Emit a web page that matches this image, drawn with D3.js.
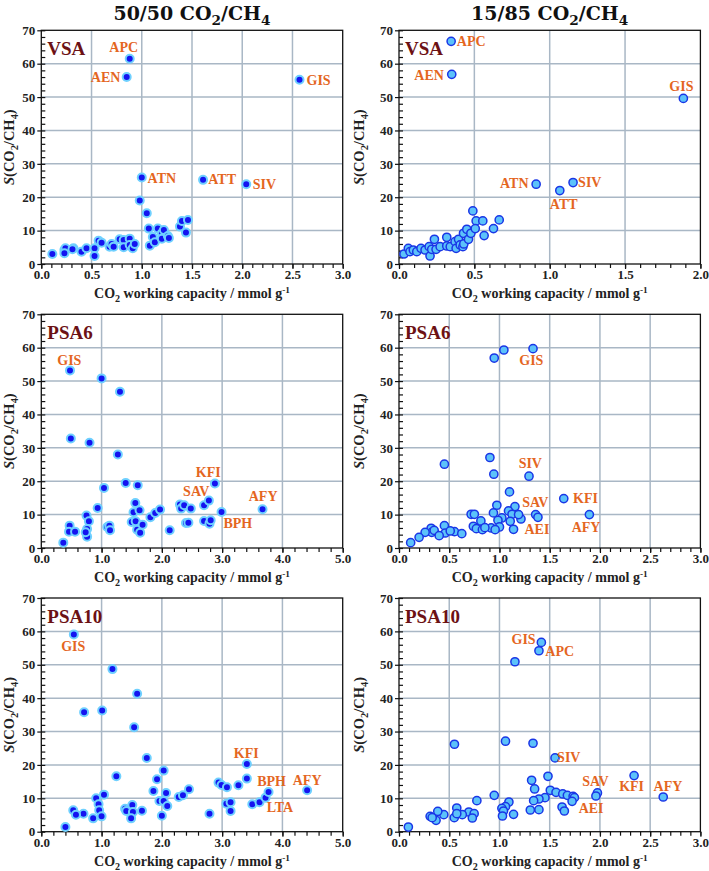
<!DOCTYPE html>
<html>
<head>
<meta charset="utf-8">
<script src="https://cdn.jsdelivr.net/npm/d3@7.9.0/dist/d3.min.js"></script>
<style>
  body { margin: 0; background: #fff; }
  text { font-family: "Liberation Serif", serif; font-weight: bold; }
</style>
</head>
<body>
<svg id="chart" width="709" height="871"></svg>
<script>
// ===== data: [CO2 working capacity, selectivity] =====
const vsa5050 = [[0.88,61.5],[0.85,56.0],[2.57,55.2],[1.00,25.9],[1.61,25.2],[2.04,23.9],[0.98,19.0],[1.05,15.2],[1.07,10.6],[1.11,8.1],[1.08,5.5],[1.13,6.5],[1.16,10.6],[1.20,9.2],[1.20,7.6],[1.22,10.2],[1.26,8.4],[1.27,7.8],[1.38,11.2],[1.40,12.9],[1.46,13.2],[1.44,9.4],[0.11,3.0],[0.23,4.2],[0.24,4.7],[0.23,3.2],[0.32,4.7],[0.31,4.4],[0.40,3.7],[0.45,4.7],[0.53,4.7],[0.53,2.4],[0.57,7.0],[0.60,6.4],[0.68,5.2],[0.70,6.0],[0.72,5.2],[0.78,7.4],[0.82,7.2],[0.82,5.0],[0.88,7.6],[0.88,5.7],[0.91,4.7],[0.93,6.0]];
const vsa1585 = [[0.346,66.7],[0.35,56.8],[1.887,49.6],[0.91,23.9],[1.067,22.0],[1.155,24.4],[0.49,15.9],[0.512,12.9],[0.556,12.9],[0.665,13.2],[0.565,8.5],[0.627,10.6],[0.033,3.0],[0.062,4.7],[0.073,3.7],[0.095,4.2],[0.118,3.7],[0.146,4.7],[0.173,4.2],[0.20,5.2],[0.206,2.4],[0.217,4.4],[0.235,7.4],[0.246,4.4],[0.273,5.2],[0.317,8.0],[0.317,5.4],[0.34,5.2],[0.372,6.7],[0.379,4.7],[0.395,7.4],[0.406,5.7],[0.424,5.2],[0.43,6.0],[0.428,9.2],[0.45,10.4],[0.461,7.4],[0.477,9.2],[0.506,10.6]];
const psa6_5050 = [[0.476,53.2],[1.0,50.8],[1.305,46.8],[0.49,32.8],[0.80,31.5],[1.27,28.0],[1.40,19.5],[1.60,18.8],[1.04,18.0],[0.935,12.0],[0.75,9.7],[0.79,8.0],[0.76,5.7],[0.76,3.4],[0.736,4.7],[0.47,6.7],[0.46,4.9],[0.56,4.9],[0.365,1.6],[1.095,6.3],[1.13,6.7],[1.14,5.3],[1.56,13.5],[1.53,10.7],[1.63,11.3],[1.50,7.8],[1.565,8.0],[1.59,5.5],[1.64,4.6],[1.68,7.0],[1.81,9.2],[1.89,10.5],[1.97,11.5],[2.13,5.3],[2.30,13.0],[2.32,11.8],[2.37,12.8],[2.48,11.8],[2.40,7.5],[2.44,7.6],[2.70,12.8],[2.78,14.2],[2.88,19.3],[2.70,8.1],[2.79,7.3],[2.81,8.3],[2.99,10.8],[3.67,11.6]];
const psa6_1585 = [[1.044,59.3],[1.334,59.7],[0.948,56.9],[0.452,25.1],[0.905,27.1],[0.944,22.1],[1.294,21.5],[1.10,16.8],[1.64,14.8],[1.895,10.0],[0.974,12.8],[1.154,12.4],[1.09,11.1],[1.125,10.1],[0.94,10.5],[1.024,9.0],[0.985,8.3],[1.107,8.0],[1.214,8.7],[1.19,10.0],[1.36,10.0],[1.383,9.2],[1.14,5.6],[1.0,6.3],[0.918,6.0],[0.957,5.5],[0.718,10.1],[0.75,10.1],[0.74,6.5],[0.77,5.8],[0.815,8.1],[0.83,5.5],[0.855,6.1],[0.452,6.7],[0.46,4.5],[0.552,4.9],[0.51,5.1],[0.625,4.3],[0.32,5.9],[0.326,4.7],[0.35,5.3],[0.26,4.7],[0.40,3.7],[0.20,3.2],[0.116,1.6]];
const psa10_5050 = [[0.54,59.1],[1.18,48.7],[1.59,41.3],[0.71,35.8],[1.01,36.3],[1.54,31.3],[1.75,22.1],[1.245,16.6],[1.92,15.7],[2.03,18.3],[1.86,12.2],[2.07,11.6],[1.96,9.2],[2.03,9.2],[2.09,7.7],[2.0,4.8],[2.28,10.4],[2.35,10.9],[2.45,12.7],[2.79,5.4],[2.94,14.7],[2.99,14.0],[3.08,13.3],[3.27,13.9],[3.41,20.3],[3.41,15.9],[3.07,8.4],[3.14,8.8],[3.14,6.2],[3.50,8.2],[3.62,8.8],[3.72,10.2],[3.77,11.9],[4.41,12.4],[0.91,10.0],[1.04,11.1],[0.95,8.2],[0.96,6.4],[1.0,4.6],[0.86,4.0],[0.70,5.4],[0.53,6.4],[0.575,5.1],[0.40,1.4],[1.39,6.9],[1.41,6.2],[1.51,8.0],[1.52,5.9],[1.49,4.0],[1.67,6.3]];
const psa10_1585 = [[1.417,56.7],[1.393,54.2],[1.154,50.9],[0.552,26.2],[1.06,27.1],[1.334,26.5],[1.553,22.1],[2.34,16.8],[2.63,10.4],[1.975,11.6],[1.96,10.7],[1.483,16.6],[1.32,15.4],[1.35,12.8],[1.506,12.4],[1.563,11.8],[1.63,11.3],[1.676,10.9],[1.733,10.6],[1.746,10.2],[1.723,9.1],[1.453,10.2],[1.393,9.8],[1.34,9.3],[1.623,7.4],[1.646,6.2],[1.307,6.5],[1.393,6.6],[1.14,5.2],[1.094,8.9],[1.06,7.5],[1.024,7.0],[1.04,6.2],[1.03,4.7],[0.948,10.9],[0.775,9.3],[0.575,7.1],[0.695,5.9],[0.748,5.4],[0.73,4.1],[0.63,5.1],[0.55,4.2],[0.575,5.4],[0.446,5.1],[0.386,6.1],[0.369,3.4],[0.31,4.6],[0.33,4.2],[0.093,1.4]];

// framework labels, placed where the text sits (data units)
const vsa5050Notes = [['APC',0.82,64.9],['AEN',0.64,55.9],['GIS',2.76,54.9],['ATN',1.20,25.7],['ATT',1.80,25.2],['SIV',2.22,23.9]];
const vsa1585Notes = [['APC',0.479,66.7],['AEN',0.20,56.6],['GIS',1.874,53.3],['ATN',0.765,24.0],['ATT',1.093,17.9],['SIV',1.266,24.4]];
const psa6_5050Notes = [['GIS',0.465,56.3],['KFI',2.77,22.5],['SAV',2.57,17.0],['BPH',3.26,7.3],['AFY',3.68,15.5]];
const psa6_1585Notes = [['GIS',1.317,56.1],['SIV',1.307,25.3],['SAV',1.357,13.6],['AEI',1.373,5.6],['KFI',1.856,14.8],['AFY',1.862,6.1]];
const psa10_5050Notes = [['GIS',0.53,55.4],['KFI',3.40,23.4],['BPH',3.82,15.1],['AFY',4.41,15.4],['LTA',3.96,7.1]];
const psa10_1585Notes = [['GIS',1.24,57.6],['APC',1.60,53.9],['SIV',1.69,22.1],['SAV',1.955,15.1],['AEI',1.912,6.9],['KFI',2.315,13.4],['AFY',2.677,13.6]];

const mixtures = ['50/50', '15/85'];
const processes = ['VSA', 'PSA6', 'PSA10'];
const xMaxes = [[3, 2], [5, 3], [5, 3]];
const yTicks = [0, 10, 20, 30, 40, 50, 60, 70];

const series = [[vsa5050, vsa1585], [psa6_5050, psa6_1585], [psa10_5050, psa10_1585]];
const notes = [[vsa5050Notes, vsa1585Notes], [psa6_5050Notes, psa6_1585Notes], [psa10_5050Notes, psa10_1585Notes]];

// ===== layout =====
const colLeft = [41.3, 399];
const rowTop = [30.3, 314.3, 598];
const W = 301.4, H = 233.7;
const gridColor = '#a9b7c5';
const orange = '#e4661f';
const maroon = '#6c1114';

const svg = d3.select('#chart');

// text with sub/superscripts: parts = [[str, kind], ...]
function rich(sel, parts, size) {
  let shift = 0;
  parts.forEach(([str, kind]) => {
    const t = sel.append('tspan').text(str);
    let target = 0;
    if (kind === 'sub') { target = size * 0.28; t.attr('font-size', size * 0.72); }
    else if (kind === 'sup') { target = -size * 0.36; t.attr('font-size', size * 0.66); }
    else if (kind === 'i') t.attr('font-style', 'italic');
    if (target !== shift) { t.attr('dy', target - shift); shift = target; }
  });
  return sel;
}

// column titles
mixtures.forEach((m, c) => {
  const t = svg.append('text')
    .attr('x', colLeft[c] + W / 2)
    .attr('y', 20)
    .attr('text-anchor', 'middle')
    .attr('font-size', 19)
    .style('font-family', '"DejaVu Serif", serif')
    .attr('fill', '#111');
  rich(t, [[m + ' CO'], ['2', 'sub'], ['/CH'], ['4', 'sub']], 19);
});

processes.forEach((proc, r) => {
  mixtures.forEach((m, c) => {
    const g = svg.append('g').attr('transform', `translate(${colLeft[c]},${rowTop[r]})`);
    const xMax = xMaxes[r][c];
    const step = xMax === 5 ? 1 : 0.5;
    const x = d3.scaleLinear().domain([0, xMax]).range([0, W]);
    const y = d3.scaleLinear().domain([0, 70]).range([H, 0]);
    const xMajor = d3.range(0, xMax + 1e-9, step);
    const xMinor = d3.range(0, xMax + 1e-9, step / 5);
    const yMinor = d3.range(0, 70.001, 2);

    // grid
    g.selectAll('.gx').data(xMajor.slice(1, -1)).join('line')
      .attr('x1', d => x(d)).attr('x2', d => x(d)).attr('y1', 0).attr('y2', H)
      .attr('stroke', gridColor).attr('stroke-width', 1.5);
    g.selectAll('.gy').data(yTicks.slice(1, -1)).join('line')
      .attr('x1', 0).attr('x2', W).attr('y1', d => y(d)).attr('y2', d => y(d))
      .attr('stroke', gridColor).attr('stroke-width', 1.5);

    // axes
    g.append('g').attr('transform', `translate(0,${H})`)
      .call(d3.axisBottom(x).tickValues(xMajor).tickSize(5).tickPadding(1).tickFormat(d3.format('.1f')));
    g.append('g').attr('transform', `translate(0,${H})`)
      .call(d3.axisBottom(x).tickValues(xMinor).tickSize(4).tickFormat(''));
    g.append('g')
      .call(d3.axisLeft(y).tickValues(yTicks).tickSize(4).tickPadding(2));
    g.append('g')
      .call(d3.axisRight(y).tickValues(yMinor).tickSize(4).tickFormat(''));
    g.selectAll('.domain').remove();
    g.selectAll('.tick line').attr('stroke', '#111').attr('stroke-width', 1.2);
    g.selectAll('.tick text').attr('font-size', 13).attr('fill', '#222')
      .style('font-family', '"Liberation Serif", serif').attr('font-weight', 'bold');

    // frame
    g.append('rect').attr('width', W).attr('height', H)
      .attr('fill', 'none').attr('stroke', '#111').attr('stroke-width', 1.3);

    // points
    const dark = c === 0;
    g.append('g').selectAll('circle').data(series[r][c]).join('circle')
      .attr('cx', d => x(d[0])).attr('cy', d => y(d[1]))
      .attr('r', dark ? 4 : 4.1)
      .attr('fill', dark ? '#1414f0' : '#5cc2fa')
      .attr('stroke', dark ? '#6fd0ff' : '#1a36e6')
      .attr('stroke-width', dark ? 2 : 1.5);

    // framework labels
    g.append('g').selectAll('text').data(notes[r][c]).join('text')
      .attr('x', d => x(d[1])).attr('y', d => y(d[2]))
      .attr('text-anchor', 'middle').attr('dominant-baseline', 'central')
      .attr('font-size', 14).attr('fill', orange)
      .text(d => d[0]);

    // process name
    g.append('text').attr('x', 6).attr('y', 18.5)
      .attr('dominant-baseline', 'central')
      .attr('font-size', 19).attr('fill', maroon)
      .text(proc);

    // axis titles
    rich(g.append('text').attr('x', W / 2).attr('y', H + 34)
      .attr('text-anchor', 'middle').attr('font-size', 14).attr('fill', '#222'),
      [['CO'], ['2', 'sub'], [' working capacity / mmol g'], ['-1', 'sup']], 14);
    rich(g.append('text')
      .attr('transform', `translate(${c === 0 ? -27 : -35},${H / 2}) rotate(-90)`)
      .attr('text-anchor', 'middle').attr('font-size', 14.5).attr('fill', '#222'),
      [['S', 'i'], ['(CO'], ['2', 'sub'], ['/CH'], ['4', 'sub'], [')']], 14.5);
  });
});
</script>
</body>
</html>
